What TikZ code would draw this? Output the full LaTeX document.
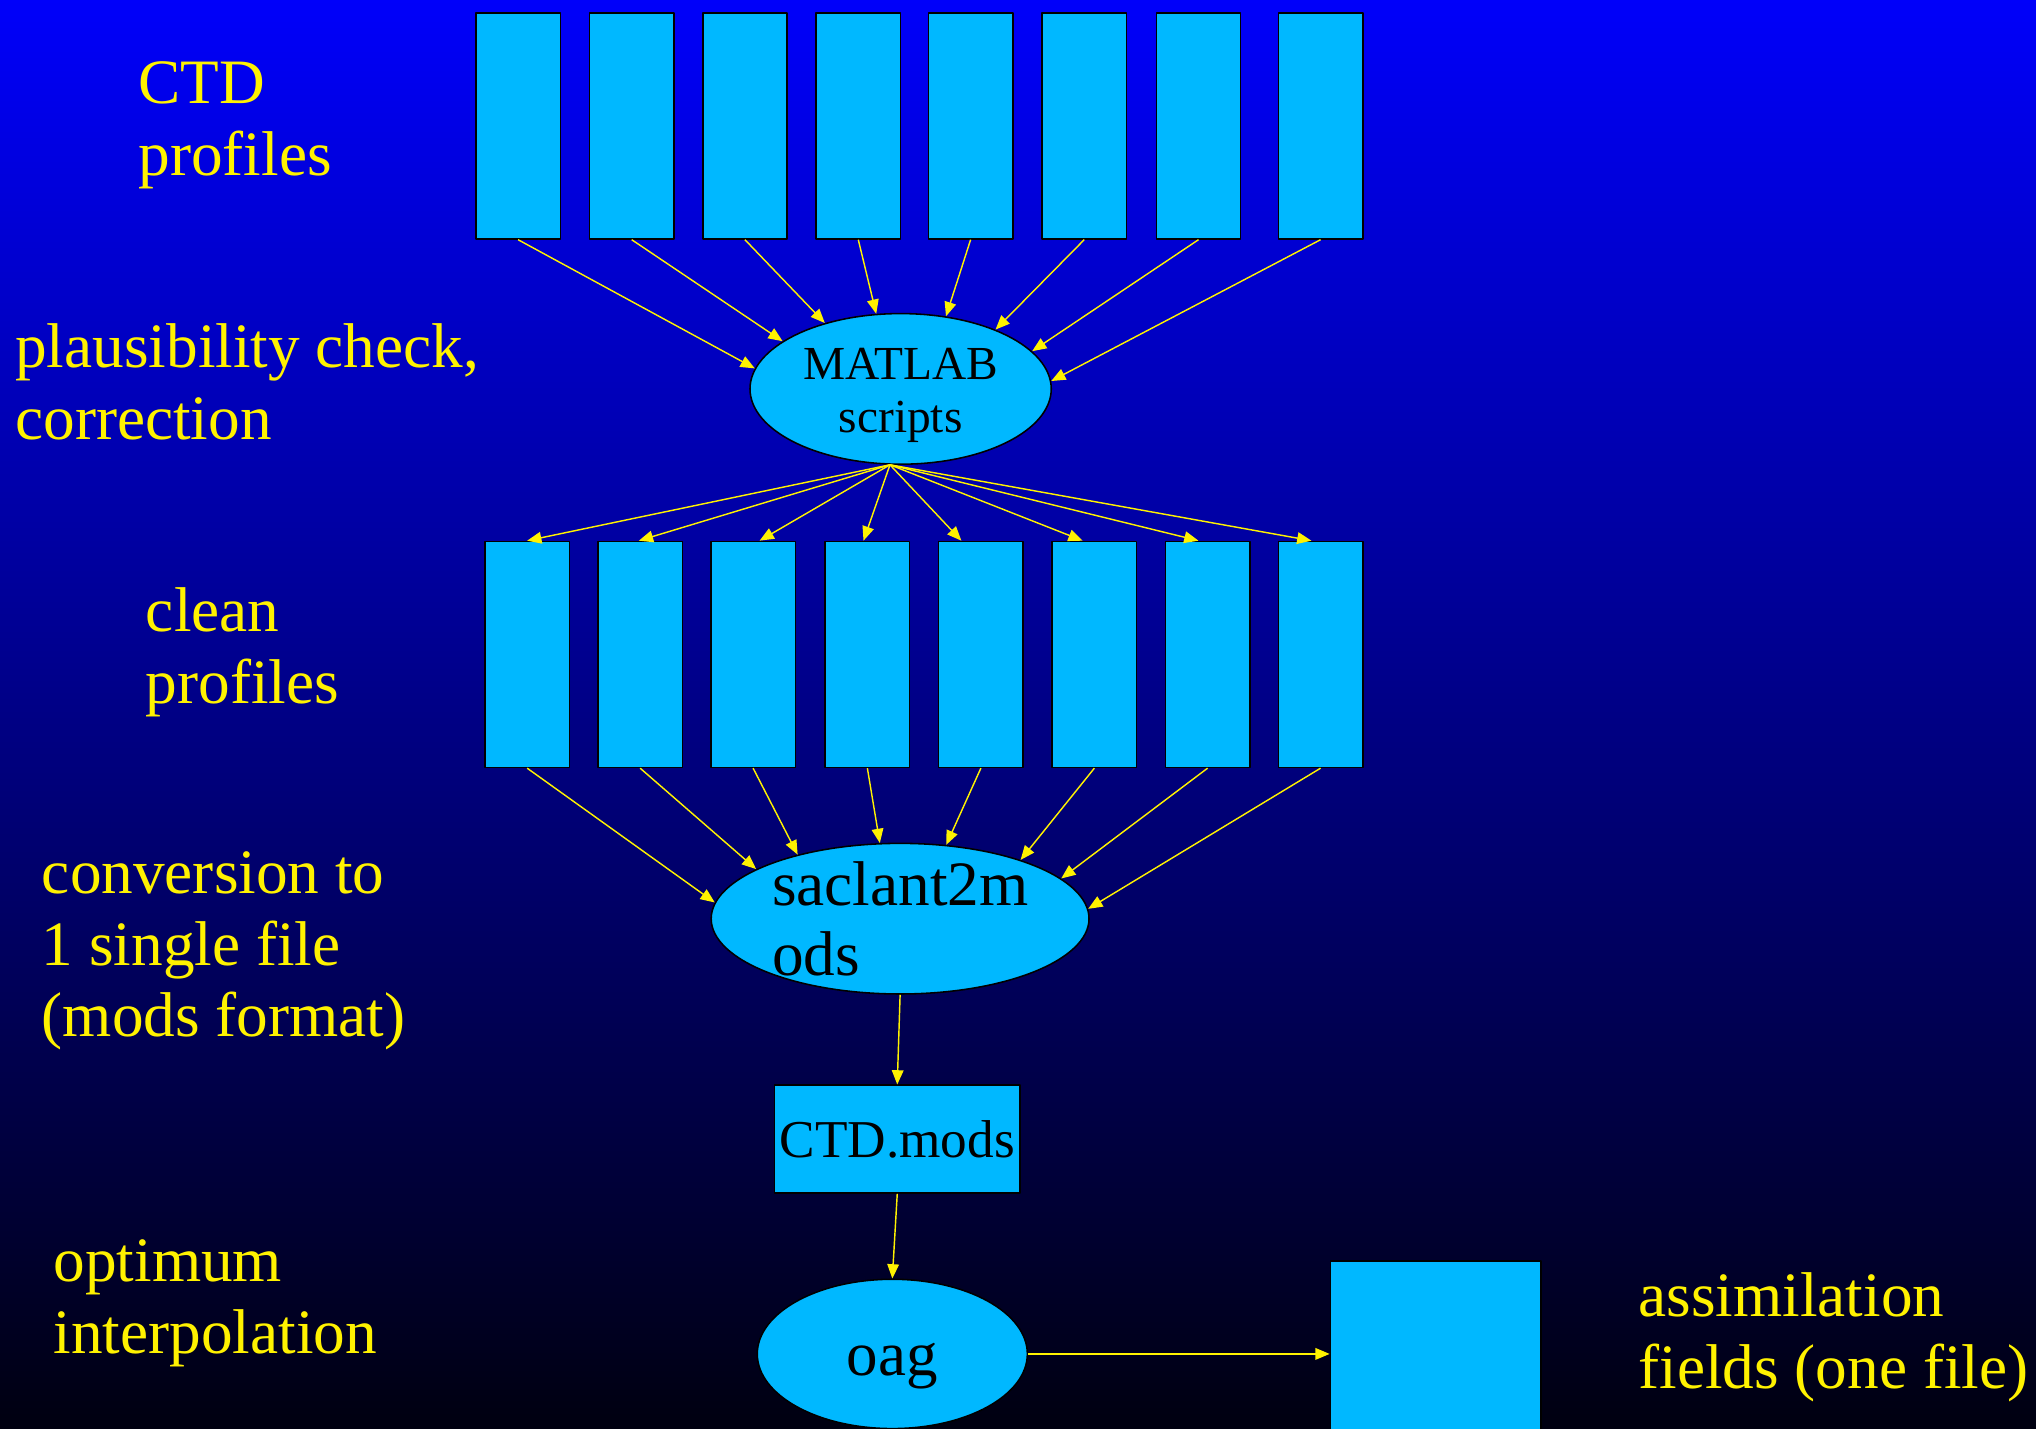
\documentclass[tikz,border=0pt]{standalone}
\usepackage{fontspec}
\setmainfont{Liberation Serif}
\usetikzlibrary{shapes.geometric,arrows.meta}
\definecolor{bgtop}{RGB}{0,0,250}
\definecolor{bgmid}{RGB}{0,0,172}
\definecolor{bgbot}{RGB}{0,0,16}
\definecolor{boxcyan}{RGB}{0,184,255}
\begin{document}
\begin{tikzpicture}[x=1pt,y=-1pt,line join=round,
  prof/.style={draw=black,line width=1.2pt,fill=boxcyan,minimum width=65pt,minimum height=174pt,inner sep=0pt},
  proc/.style={ellipse,draw=black,line width=1.2pt,fill=boxcyan,inner sep=0pt},
  lbl/.style={text=yellow,font=\fontsize{48.7}{55}\selectfont,align=left,anchor=base west,inner sep=0pt},
  flow/.style={-{Triangle[length=11pt,width=9pt]},draw=yellow,fill=yellow,line width=1.1pt}]
\useasboundingbox (0,0) rectangle (1568,1100);
\clip (0,0) rectangle (1568,1100);
\shade[top color=bgtop,middle color=bgmid,bottom color=bgbot] (0,0) rectangle (1568,1100);
% side labels (placed at the baseline of their last line)
\node[lbl] (l1) at (106.5,134.8) {CTD\\profiles};
\node[lbl] (l2) at (11.6,338.3) {plausibility check,\\correction};
\node[lbl] (l3) at (112.2,541.7) {clean\\profiles};
\node[lbl] (l4) at (32.1,798.4) {conversion to\\1 single file\\(mods format)};
\node[lbl] (l5) at (41.1,1042.2) {optimum\\interpolation};
\node[lbl] (l6) at (1261.7,1069.2) {assimilation\\fields (one file)};
% profiles
\foreach \i/\x in {1/399,2/486.5,3/573.7,4/661,5/747.5,6/835,7/923,8/1017}
  \node[prof] (t\i) at (\x,97) {};
\foreach \i/\x in {1/406,2/493,3/580,4/668,5/755.4,6/842.8,7/930,8/1017}
  \node[prof] (c\i) at (\x,504) {};
% processing steps
\node[proc,minimum width=232pt,minimum height=116pt,
  label={[font=\fontsize{36.5}{40.5}\selectfont,align=center,inner sep=0pt,yshift=-5pt]center:{MATLAB\\scripts}}] (mat) at (693.6,299.5) {};
\node[proc,minimum width=291pt,minimum height=116pt,
  label={[font=\fontsize{48.7}{54}\selectfont,align=left,text width=197pt,inner sep=0pt]center:{saclant2m\\ods}}] (sac) at (693.2,707.5) {};
\node[draw=black,line width=1.2pt,fill=boxcyan,minimum width=189pt,minimum height=83pt,inner sep=0pt,font=\fontsize{41}{45}\selectfont] (mods) at (691,877.3) {CTD.mods};
\node[proc,minimum width=208pt,minimum height=115pt,text height=43.6pt,text depth=9.7pt,font=\fontsize{48.5}{54}\selectfont] (oag) at (687.2,1042.7) {oag};
\node[draw=black,line width=1.2pt,fill=boxcyan,minimum width=162pt,minimum height=160pt,inner sep=0pt] (fld) at (1105.6,1051) {};
% connectors
\foreach \i/\a in {1/172,2/158,3/139,4/108,5/58,6/32,7/16,8/3}
  \draw[flow] (t\i.south) -- (mat.\a);
\foreach \i/\d in {1/0,2/-1,3/5,4/-3,5/-15,6/-9,7/-7,8/-7}
  \draw[flow] (mat.-98) -- ([xshift=\d pt]c\i.north);
\foreach \i/\a in {1/175,2/161,3/148,4/105,5/58,6/26,7/14,8/3}
  \draw[flow] (c\i.south) -- (sac.\a);
\draw[flow] (sac.south) -- (mods.north);
\draw[flow] (mods.south) -- (oag.north);
\draw[flow] (oag.east) -- (oag.east -| fld.west);
\end{tikzpicture}
\end{document}
